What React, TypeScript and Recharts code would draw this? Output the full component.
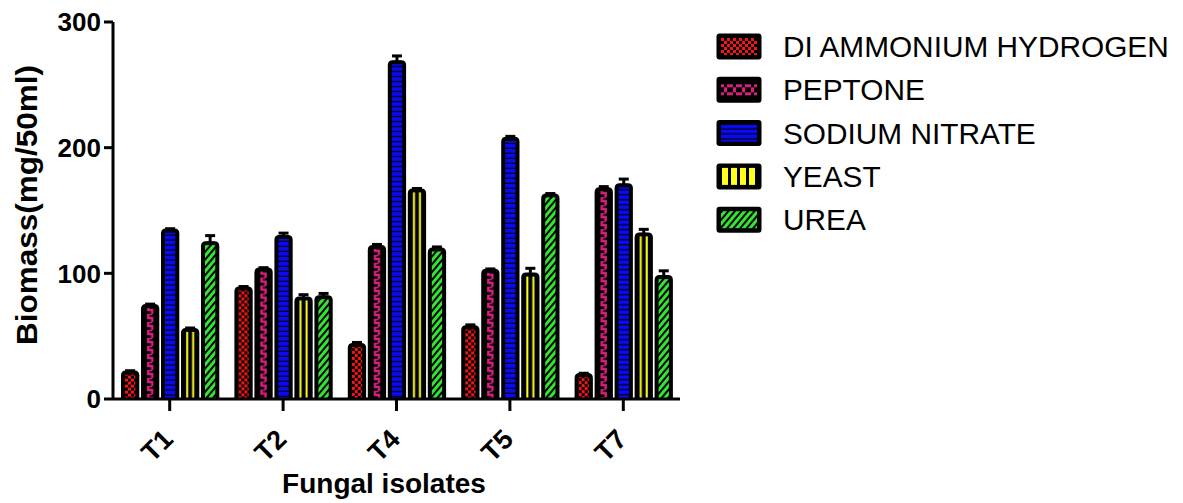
import React from 'react';
import { BarChart, Bar, XAxis, YAxis, ErrorBar, Legend } from 'recharts';

const isolates = ['T1', 'T2', 'T4', 'T5', 'T7'];
const seriesNames = ['DI AMMONIUM HYDROGEN', 'PEPTONE', 'SODIUM NITRATE', 'YEAST', 'UREA'];
const diAmmonium = [21, 88, 43, 57, 19];
const peptone = [74, 103, 121, 102, 167];
const sodiumNitrate = [134, 129, 268, 207, 170];
const yeast = [55, 80, 166, 99, 131];
const urea = [124, 81, 119, 162, 97];
const diAmmoniumErr = [1.5, 1.5, 2, 2, 1.5];
const peptoneErr = [1.5, 1.5, 2, 1.5, 2];
const sodiumNitrateErr = [1.5, 3, 5, 2, 5];
const yeastErr = [1.5, 3, 1.5, 5, 4];
const ureaErr = [6, 3, 2, 1.5, 5];
const yTicks = [0, 100, 200, 300];

const seriesValues = [diAmmonium, peptone, sodiumNitrate, yeast, urea];
const seriesErrors = [diAmmoniumErr, peptoneErr, sodiumNitrateErr, yeastErr, ureaErr];

const data = isolates.map((name, i) => {
  const row: any = { name };
  seriesValues.forEach((vals, k) => {
    row['s' + k] = vals[i];
    row['e' + k] = [0, seriesErrors[k][i]];
  });
  return row;
});

const RED = '#f41414';
const MAGENTA = '#d81f7d';
const BLUE = '#0a0af5';
const YELLOW = '#ffff1e';
const GREEN = '#33e433';
const FONT = '"Liberation Sans", Arial, sans-serif';
const LEGEND_W = 460;

function makePattern(kind: number, id: string, x0: number, y0: number, w: number, legend = false) {
  if (kind === 0) {
    return (
      <pattern id={id} key={id} patternUnits="userSpaceOnUse" x={x0} y={y0} width={6} height={6}>
        <rect width={6} height={6} fill="#000" />
        <rect x={0} y={0} width={3} height={3} fill={RED} />
        <rect x={3} y={3} width={3} height={3} fill={RED} />
      </pattern>
    );
  }
  if (kind === 1) {
    if (legend) {
      return (
        <pattern id={id} key={id} patternUnits="userSpaceOnUse" x={x0} y={y0} width={9} height={17}>
          <rect width={9} height={17} fill="#000" />
          <rect x={0} y={3} width={3} height={3} fill={MAGENTA} />
          <rect x={3} y={6} width={3} height={5} fill={MAGENTA} />
          <rect x={6} y={3} width={3} height={3} fill={MAGENTA} />
          <rect x={0} y={11} width={3} height={3} fill={MAGENTA} />
          <rect x={6} y={11} width={3} height={3} fill={MAGENTA} />
        </pattern>
      );
    }
    const cx = w / 2;
    return (
      <pattern id={id} key={id} patternUnits="userSpaceOnUse" x={x0} y={y0} width={w} height={8}>
        <rect width={w} height={8} fill="#000" />
        <path d={`M${cx + 2},0 H${cx - 2} V4 H${cx + 2} V8`} stroke={MAGENTA} strokeWidth={2.4} fill="none" />
      </pattern>
    );
  }
  if (kind === 2) {
    return (
      <pattern id={id} key={id} patternUnits="userSpaceOnUse" x={x0} y={y0} width={4} height={5}>
        <rect width={4} height={5} fill={BLUE} />
        <rect x={0} y={3.8} width={4} height={1.2} fill="#000" />
      </pattern>
    );
  }
  if (kind === 3) {
    if (legend) {
      return (
        <pattern id={id} key={id} patternUnits="userSpaceOnUse" x={x0} y={y0} width={9} height={4}>
          <rect width={9} height={4} fill="#000" />
          <rect x={1} y={0} width={6} height={4} fill={YELLOW} />
        </pattern>
      );
    }
    const cx = w / 2;
    return (
      <pattern id={id} key={id} patternUnits="userSpaceOnUse" x={x0} y={y0} width={w} height={4}>
        <rect width={w} height={4} fill="#000" />
        <rect x={cx - 4} y={0} width={2} height={4} fill={YELLOW} />
        <rect x={cx + 2} y={0} width={2} height={4} fill={YELLOW} />
      </pattern>
    );
  }
  return (
    <pattern id={id} key={id} patternUnits="userSpaceOnUse" x={x0} y={y0} width={5} height={5} patternTransform="rotate(40)">
      <rect width={5} height={5} fill="#000" />
      <rect x={0} y={0} width={3} height={5} fill={GREEN} />
    </pattern>
  );
}

function PatternBar(props: any) {
  const { x, y, width, height, kind, index } = props;
  if (width == null || height == null || isNaN(x) || isNaN(y)) return null;
  const id = `pb-${kind}-${index}`;
  const sw = 4;
  const ox = x - sw / 2;
  const oy = y - sw / 2;
  const ow = width + sw;
  const oh = height + sw / 2;
  const r = 5;
  const outer = `M${ox},${oy + oh} V${oy + r} Q${ox},${oy} ${ox + r},${oy} H${ox + ow - r} Q${ox + ow},${oy} ${ox + ow},${oy + r} V${oy + oh} Z`;
  return (
    <g>
      <defs>{makePattern(kind, id, x + sw / 2, y, width - sw)}</defs>
      <path d={outer} fill="#000" />
      <rect x={x + sw / 2} y={y + sw / 2} width={Math.max(0, width - sw)} height={Math.max(0, height - sw / 2)} fill={`url(#${id})`} />
    </g>
  );
}

function XTick(props: any) {
  const { x, y, payload } = props;
  return (
    <text
      x={0}
      y={0}
      transform={`translate(${x + 5},${y + 30}) rotate(-45)`}
      textAnchor="end"
      fill="#000"
      fontSize={27}
      fontWeight={700}
      fontFamily={FONT}
    >
      {payload.value}
    </text>
  );
}

function YTitle() {
  return (
    <text
      x={0}
      y={0}
      transform="translate(37,205) rotate(-90)"
      textAnchor="middle"
      fill="#000"
      fontSize={29}
      fontWeight={700}
      fontFamily={FONT}
      textLength={280}
      lengthAdjust="spacingAndGlyphs"
    >
      Biomass(mg/50ml)
    </text>
  );
}

function XTitle() {
  return (
    <text x={384} y={493} textAnchor="middle" fill="#000" fontSize={28} fontWeight={700} fontFamily={FONT}>
      Fungal isolates
    </text>
  );
}

function LegendBox() {
  return (
    <svg width={LEGEND_W} height={220} style={{ display: 'block', overflow: 'visible' }}>
      <defs>
        {seriesNames.map((_, k) => makePattern(k, `lg-${k}`, 5, 13.5 + k * 43.3 - 8.5, 36, true))}
      </defs>
      {seriesNames.map((name, k) => {
        const c = 13.5 + k * 43.3;
        return (
          <g key={name}>
            <rect x={0.5} y={c - 13} width={45} height={26} rx={3} fill="#000" />
            <rect x={5} y={c - 8.5} width={36} height={17} fill={`url(#lg-${k})`} />
            <text x={67} y={c} dy="0.355em" fontSize={29.8} fontFamily={FONT} fill="#000">
              {name}
            </text>
          </g>
        );
      })}
    </svg>
  );
}

export default function App() {
  return (
    <div style={{ position: 'absolute', left: 0, top: 0, width: 1183, height: 503, background: '#fff' }}>
      <BarChart
        width={1183}
        height={503}
        data={data}
        margin={{ top: 22, right: 503 - LEGEND_W, left: 53, bottom: 44 }}
        barSize={14.3}
        barGap={5.7}
      >
        <XAxis
          dataKey="name"
          height={60}
          axisLine={{ stroke: '#000', strokeWidth: 3 }}
          tickLine={{ stroke: '#000', strokeWidth: 3 }}
          tickSize={12}
          tickMargin={0}
          tick={<XTick />}
          interval={0}
          label={<XTitle />}
        />
        <YAxis
          width={60}
          domain={[0, 300]}
          ticks={yTicks}
          allowDataOverflow
          axisLine={{ stroke: '#000', strokeWidth: 3 }}
          tickLine={{ stroke: '#000', strokeWidth: 3 }}
          tickSize={9}
          tickMargin={3}
          tick={{ fill: '#000', fontSize: 26, fontWeight: 700, fontFamily: FONT }}
          label={<YTitle />}
        />
        <Legend
          layout="horizontal"
          verticalAlign="middle"
          align="right"
          wrapperStyle={{ position: 'absolute', left: 716, top: 33, width: LEGEND_W, height: 220 }}
          content={() => <LegendBox />}
        />
        {seriesNames.map((name, k) => (
          <Bar
            key={name}
            dataKey={'s' + k}
            name={name}
            isAnimationActive={false}
            shape={(p: any) => <PatternBar {...p} kind={k} />}
          >
            <ErrorBar dataKey={'e' + k} direction="y" width={5} stroke="#000" strokeWidth={3} />
          </Bar>
        ))}
      </BarChart>
    </div>
  );
}
